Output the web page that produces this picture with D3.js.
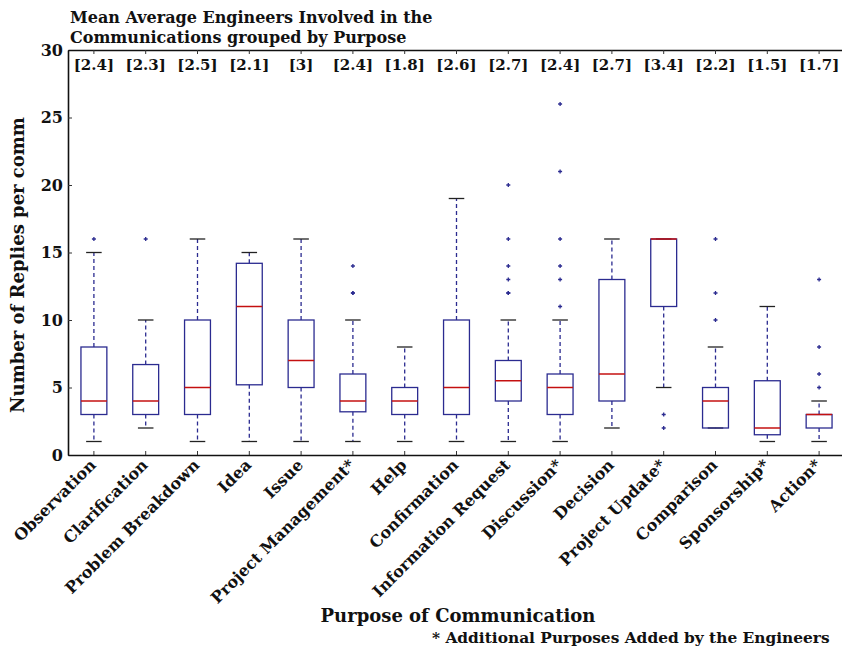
<!DOCTYPE html>
<html><head><meta charset="utf-8">
<script src="https://cdn.jsdelivr.net/npm/d3@7"></script>
<style>
body{margin:0;background:#fff}
svg text{font-family:"DejaVu Serif",serif;font-weight:bold;fill:#111}
</style>
</head><body><svg id="c" width="842" height="648"></svg>
<script>
const categories = ["Observation","Clarification","Problem Breakdown","Idea","Issue","Project Management*","Help","Confirmation","Information Request","Discussion*","Decision","Project Update*","Comparison","Sponsorship*","Action*"];
const whiskerLow  = [1, 2, 1, 1, 1, 1, 1, 1, 1, 1, 2, 5, 2, 1, 1];
const q1          = [3, 3, 3, 5.2, 5, 3.2, 3, 3, 4, 3, 4, 11, 2, 1.5, 2];
const median      = [4, 4, 5, 11, 7, 4, 4, 5, 5.5, 5, 6, 16, 4, 2, 3];
const q3          = [8, 6.7, 10, 14.2, 10, 6, 5, 10, 7, 6, 13, 16, 5, 5.5, 3];
const whiskerHigh = [15, 10, 16, 15, 16, 10, 8, 19, 10, 10, 16, 16, 8, 11, 4];
const outliers    = [[16],[16],[],[],[],[14,12,12],[],[],[20,16,14,13,12,12],[26,21,16,14,13,11],[],[3,2],[16,12,10],[],[13,8,6,5]];
const means       = ["2.4","2.3","2.5","2.1","3","2.4","1.8","2.6","2.7","2.4","2.7","3.4","2.2","1.5","1.7"];
const yTicks      = [0,5,10,15,20,25,30];
const titleLines  = ["Mean Average Engineers Involved in the","Communications grouped by Purpose"];
const yTitle = "Number of Replies per comm";
const xTitle = "Purpose of Communication";
const footnote = "* Additional Purposes Added by the Engineers";

const svg = d3.select("#c");
const L = 68, R = 845, T = 50, B = 455;
const x = d3.scaleBand().domain(categories).range([L, R]);
const y = d3.scaleLinear().domain([0, 30]).range([B, T]);
const bw = x.bandwidth();
const boxW = bw * 0.5, capW = bw * 0.3;
const cx = c => x(c) + bw / 2;

const BLUE = "#2b2b90", RED = "#c41010";

const data = categories.map((c, i) => ({c, lo: whiskerLow[i], q1: q1[i], med: median[i], q3: q3[i], hi: whiskerHigh[i], out: outliers[i], mean: means[i]}));

const g = svg.append("g");
const box = g.selectAll("g.box").data(data).join("g").attr("class", "box");
// whiskers
box.append("line").attr("x1", d => cx(d.c)).attr("x2", d => cx(d.c))
  .attr("y1", d => y(d.q3)).attr("y2", d => y(d.hi))
  .attr("stroke", BLUE).attr("stroke-width", 1.3).attr("stroke-dasharray", "4,3");
box.append("line").attr("x1", d => cx(d.c)).attr("x2", d => cx(d.c))
  .attr("y1", d => y(d.q1)).attr("y2", d => y(d.lo))
  .attr("stroke", BLUE).attr("stroke-width", 1.3).attr("stroke-dasharray", "4,3");
// caps
box.append("line").attr("x1", d => cx(d.c) - capW / 2).attr("x2", d => cx(d.c) + capW / 2)
  .attr("y1", d => y(d.hi)).attr("y2", d => y(d.hi)).attr("stroke", "#222").attr("stroke-width", 1.3);
box.append("line").attr("x1", d => cx(d.c) - capW / 2).attr("x2", d => cx(d.c) + capW / 2)
  .attr("y1", d => y(d.lo)).attr("y2", d => y(d.lo)).attr("stroke", "#222").attr("stroke-width", 1.3);
// boxes
box.append("rect").attr("x", d => cx(d.c) - boxW / 2).attr("width", boxW)
  .attr("y", d => y(d.q3)).attr("height", d => y(d.q1) - y(d.q3))
  .attr("fill", "none").attr("stroke", BLUE).attr("stroke-width", 1.3);
// medians
box.append("line").attr("x1", d => cx(d.c) - boxW / 2).attr("x2", d => cx(d.c) + boxW / 2)
  .attr("y1", d => y(d.med)).attr("y2", d => y(d.med)).attr("stroke", RED).attr("stroke-width", 1.5);
// outliers
box.selectAll("path.out").data(d => d.out.map(v => ({c: d.c, v}))).join("path").attr("class", "out")
  .attr("d", d => { const px = cx(d.c), py = y(d.v), s = 2; return `M${px - s},${py}H${px + s}M${px},${py - s}V${py + s}`; })
  .attr("stroke", BLUE).attr("stroke-width", 1.3).attr("fill", "none");

// mean labels
g.selectAll("text.mean").data(data).join("text").attr("class", "mean")
  .attr("x", d => cx(d.c)).attr("y", 70).attr("text-anchor", "middle")
  .attr("font-size", 15).text(d => `[${d.mean}]`);

// axes
const yAxis = svg.append("g").attr("transform", `translate(${L},0)`)
  .call(d3.axisLeft(y).tickValues(yTicks).tickSize(-4).tickSizeOuter(0).tickPadding(5));
yAxis.selectAll("text").attr("font-size", 16);
const xAxis = svg.append("g").attr("transform", `translate(0,${B})`)
  .call(d3.axisBottom(x).tickSize(-4).tickSizeOuter(0).tickFormat(""));
const topAxis = svg.append("g").attr("transform", `translate(0,${T})`)
  .call(d3.axisTop(x).tickSize(-4).tickSizeOuter(0).tickFormat(""));
svg.selectAll(".domain").attr("stroke", "#111").attr("stroke-width", 1.6);
svg.selectAll(".tick line").attr("stroke", "#333").attr("stroke-width", 1);

// x tick labels
svg.append("g").selectAll("text").data(categories).join("text")
  .attr("transform", c => `translate(${cx(c) + 3},${B + 11}) rotate(-45)`)
  .attr("text-anchor", "end").attr("font-size", 16).text(c => c);

// titles
svg.append("text").attr("x", 70).attr("y", 23).attr("font-size", 16).text(titleLines[0]);
svg.append("text").attr("x", 70).attr("y", 43).attr("font-size", 16).text(titleLines[1]);
svg.append("text").attr("transform", `translate(24,265) rotate(-90)`)
  .attr("text-anchor", "middle").attr("font-size", 18).text(yTitle);
svg.append("text").attr("x", 458).attr("y", 622).attr("text-anchor", "middle").attr("font-size", 18).text(xTitle);
svg.append("text").attr("x", 432).attr("y", 643).attr("font-size", 15.4).text(footnote);
</script>
</body></html>
